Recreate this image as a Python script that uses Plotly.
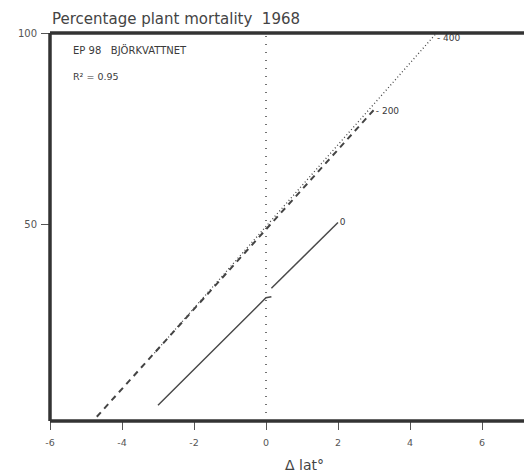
import plotly.graph_objects as go

# Data
x_ticks = [-6, -4, -2, 0, 2, 4, 6]
x_tick_labels = ["-6", "-4", "-2", "0", "2", "4", "6"]
y_ticks = [50, 100]
y_tick_labels = ["50", "100"]

line0_lower_x = [-3.0, 0.0, 0.15]
line0_lower_y = [3.0, 31.0, 31.3]
line0_upper_x = [0.15, 2.0]
line0_upper_y = [33.5, 50.6]
line200_x = [-4.7, 3.0]
line200_y = [0.0, 80.0]
line400_x = [-3.1, 4.7]
line400_y = [16.6, 99.6]
zero_line_x = [0, 0]
zero_line_y = [-1.1, 100]

labels_text = ["0", "- 400", "- 200"]
labels_x = [2.05, 4.75, 3.05]
labels_y = [50.6, 98.6, 79.5]

ink = "#3a3a3a"
font = "DejaVu Sans, Verdana, sans-serif"

fig = go.Figure()
fig.add_trace(go.Scatter(x=zero_line_x, y=zero_line_y, mode="lines",
                         line=dict(color="#444", width=1.5, dash="1px,7px"),
                         hoverinfo="skip"))
fig.add_trace(go.Scatter(x=line0_lower_x, y=line0_lower_y, mode="lines",
                         line=dict(color="#4a4a4a", width=1.5), hoverinfo="skip"))
fig.add_trace(go.Scatter(x=line0_upper_x, y=line0_upper_y, mode="lines",
                         line=dict(color="#4a4a4a", width=1.5), hoverinfo="skip"))
fig.add_trace(go.Scatter(x=line200_x, y=line200_y, mode="lines",
                         line=dict(color="#444", width=2, dash="6px,5px"),
                         hoverinfo="skip"))
fig.add_trace(go.Scatter(x=line400_x, y=line400_y, mode="lines",
                         line=dict(color="#444", width=1.3, dash="1px,2.5px"),
                         hoverinfo="skip"))
fig.add_trace(go.Scatter(x=labels_x, y=labels_y, mode="text", text=labels_text,
                         textposition="middle right",
                         textfont=dict(family=font, size=9, color=ink),
                         hoverinfo="skip"))

fig.update_layout(
    width=524, height=475,
    margin=dict(l=50, r=0, t=33, b=54),
    paper_bgcolor="white", plot_bgcolor="white",
    showlegend=False,
    font=dict(family=font, color=ink),
    xaxis=dict(range=[-6, -6 + 474 / 36], tickvals=x_ticks, ticktext=x_tick_labels,
               ticks="outside", ticklen=8, tickwidth=1.2, tickcolor="#555",
               ticklabelstandoff=5,
               showgrid=False, zeroline=False, showline=False,
               tickfont=dict(size=9.5, color="#555")),
    yaxis=dict(range=[-1.1, 100], tickvals=y_ticks, ticktext=y_tick_labels,
               ticks="outside", ticklen=8, tickwidth=1.2, tickcolor="#555",
               ticklabelstandoff=2,
               showgrid=False, zeroline=False, showline=False,
               tickfont=dict(size=10, color="#555")),
)

# Frame: left, top, bottom (right side is cut off)
for x0, y0, x1, y1 in [(0, 0, 0, 1), (0, 1, 1, 1), (0, 0, 1, 0)]:
    fig.add_shape(type="line", xref="paper", yref="paper", x0=x0, y0=y0, x1=x1, y1=y1,
                  line=dict(color="#333", width=3.5))

fig.add_annotation(xref="paper", yref="paper", x=0, y=1, xshift=0, yshift=3,
                   xanchor="left", yanchor="bottom", showarrow=False,
                   text="Percentage plant mortality  1968",
                   font=dict(size=15, color="#444"))
fig.add_annotation(xref="paper", yref="paper", x=0, y=1, xshift=21, yshift=-9,
                   xanchor="left", yanchor="top", showarrow=False,
                   text="EP 98   BJÖRKVATTNET",
                   font=dict(size=10, color=ink))
fig.add_annotation(xref="paper", yref="paper", x=0, y=1, xshift=21, yshift=-36,
                   xanchor="left", yanchor="top", showarrow=False,
                   text="R² = 0.95",
                   font=dict(size=9.5, color=ink))
fig.add_annotation(xref="paper", yref="paper", x=(304 - 50) / 474, y=0, yshift=-44,
                   xanchor="center", yanchor="middle", showarrow=False,
                   text="Δ lat°",
                   font=dict(size=14, color="#444"))

fig.write_html("out.html")
